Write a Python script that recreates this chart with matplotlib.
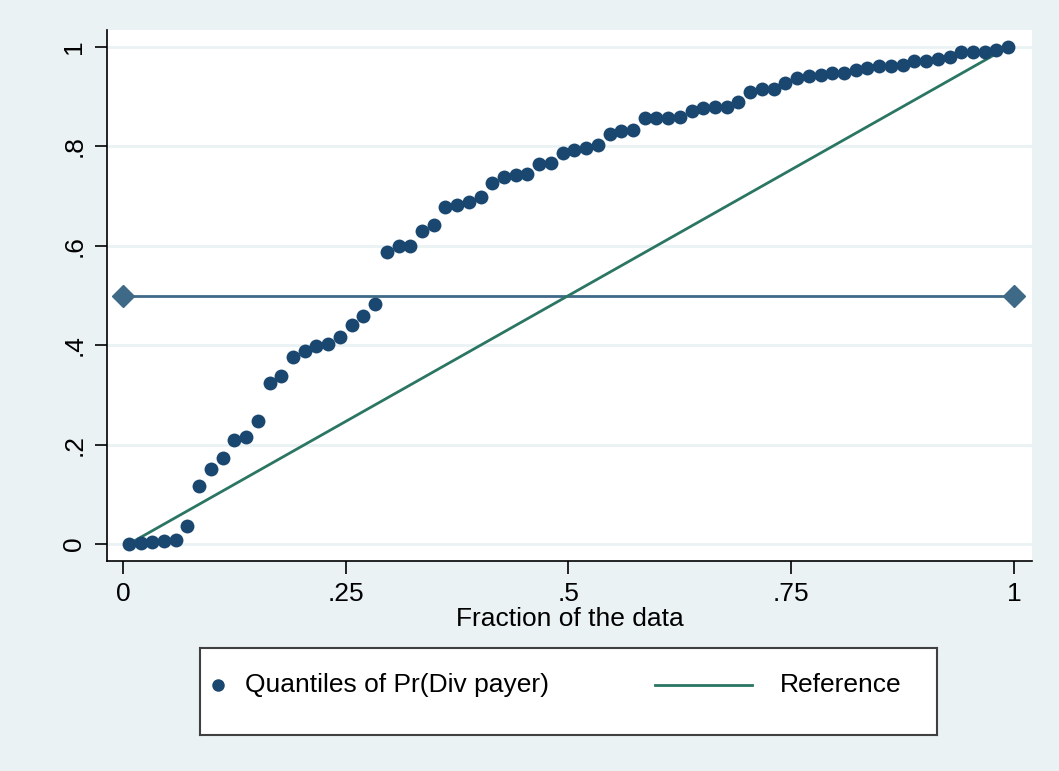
import numpy as np
import matplotlib.pyplot as plt
from matplotlib.lines import Line2D

# quantiles of predicted Pr(Div payer), sorted
pr_div = [0.000, 0.002, 0.004, 0.006, 0.008, 0.036, 0.117, 0.151, 0.173, 0.209,
          0.215, 0.247, 0.324, 0.338, 0.376, 0.388, 0.398, 0.402, 0.416, 0.441,
          0.459, 0.483, 0.588, 0.600, 0.600, 0.630, 0.642, 0.678, 0.682, 0.688,
          0.698, 0.726, 0.738, 0.742, 0.744, 0.765, 0.767, 0.787, 0.793, 0.797,
          0.803, 0.825, 0.831, 0.833, 0.857, 0.857, 0.857, 0.859, 0.871, 0.877,
          0.879, 0.879, 0.889, 0.909, 0.915, 0.915, 0.928, 0.938, 0.942, 0.944,
          0.948, 0.948, 0.954, 0.958, 0.962, 0.962, 0.964, 0.972, 0.972, 0.976,
          0.980, 0.990, 0.990, 0.990, 0.994, 1.000]
hline_y = 0.5
hline_x = [0, 1]

xticks = [0, .25, .5, .75, 1]
xticklabels = ["0", ".25", ".5", ".75", "1"]
yticks = [0, .2, .4, .6, .8, 1]
yticklabels = ["0", ".2", ".4", ".6", ".8", "1"]

BG = "#eaf2f3"
NAVY = "#1a476f"
GREEN = "#2b7663"
STEEL = "#3e6a88"

plt.rcParams['font.family'] = ['Liberation Sans', 'DejaVu Sans']
FS = 19

q = np.array(pr_div)
n = len(q)
frac = (np.arange(1, n + 1) - 0.5) / n

fig = plt.figure(figsize=(10.59, 7.71), dpi=100, facecolor=BG)
ax = fig.add_axes([0.101, 0.2724, 0.8735, 0.6886])
ax.set_facecolor("white")

for yt in yticks:
    ax.axhline(yt, color=BG, lw=2, zorder=0)

ax.plot(hline_x, [hline_y, hline_y], color=STEEL, lw=2, marker="D",
        markersize=11, zorder=2)
ax.plot([frac[0], frac[-1]], [q.min(), q.max()], color=GREEN, lw=2, zorder=3)
ax.plot(frac, q, "o", color=NAVY, markersize=10, markeredgewidth=0, zorder=4)

ax.set_xlim(-0.018, 1.0202)
ax.set_ylim(-0.0342, 1.0342)
ax.set_xticks(xticks)
ax.set_xticklabels(xticklabels, fontsize=FS)
ax.set_yticks(yticks)
ax.set_yticklabels(yticklabels, fontsize=FS, rotation=90, va="center")
ax.tick_params(axis="both", length=9, width=1.2, color="black", pad=6)
ax.set_xlabel("Fraction of the data", fontsize=FS, labelpad=1)

for s in ["top", "right"]:
    ax.spines[s].set_visible(False)
for s in ["left", "bottom"]:
    ax.spines[s].set_color("black")
    ax.spines[s].set_linewidth(1.2)

# legend box below the plot
lax = fig.add_axes([0.189, 0.0467, 0.696, 0.113])
lax.set_xlim(0, 1)
lax.set_ylim(0, 1)
lax.set_xticks([])
lax.set_yticks([])
for s in lax.spines.values():
    s.set_color("#404040")
    s.set_linewidth(1.5)
ly = 0.57
lax.add_line(Line2D([0.0244], [ly], marker="o", color=NAVY, markersize=9,
                    markeredgewidth=0))
lax.text(0.061, ly, "Quantiles of Pr(Div payer)", fontsize=FS, va="center")
lax.add_line(Line2D([0.617, 0.749], [ly, ly], color=GREEN, lw=2))
lax.text(0.787, ly, "Reference", fontsize=FS, va="center")

fig.savefig("out.png", dpi=100, facecolor=BG)
